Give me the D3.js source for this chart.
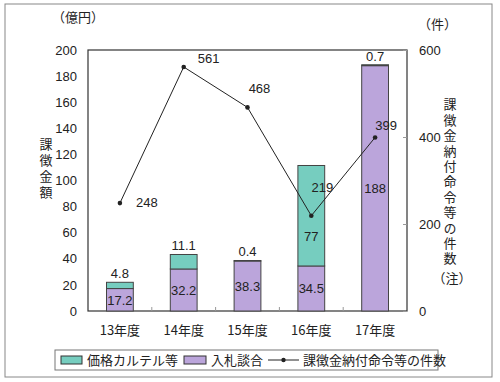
<!DOCTYPE html>
<html>
<head>
<meta charset="utf-8">
<script src="https://cdn.jsdelivr.net/npm/d3@7"></script>
<style>
  body { margin: 0; background: #fff; }
  text { font-family: "Liberation Sans", "Noto Sans CJK JP", sans-serif; fill: #222; }
  .jp { font-family: "Noto Sans CJK JP", sans-serif; }
  .vert { font-family: "Noto Sans CJK JP", sans-serif; writing-mode: vertical-rl; text-orientation: upright; }
</style>
</head>
<body>
<svg id="chart" width="500" height="382"></svg>
<script>
// data
const years = ["13年度", "14年度", "15年度", "16年度", "17年度"];
const bidRigging = [17.2, 32.2, 38.3, 34.5, 188];   // 入札談合
const cartel = [4.8, 11.1, 0.4, 77, 0.7];            // 価格カルテル等
const orders = [248, 561, 468, 219, 399];            // 課徴金納付命令等の件数
const leftTicks = [0, 20, 40, 60, 80, 100, 120, 140, 160, 180, 200];
const rightTicks = [0, 200, 400, 600];

// label nudges for the line values
const orderLabelNudge = [[27, 4], [25, -4], [12, -14], [11, -24], [11, -7]];

const svg = d3.select("#chart");
const m = { left: 88, right: 407, top: 50, bottom: 311 };

const teal = "#76cdbf", purple = "#bba5db";

// outer frame
svg.append("rect").attr("x", 5).attr("y", 4).attr("width", 487).attr("height", 373)
  .attr("fill", "none").attr("stroke", "#888").attr("stroke-width", 1);

const x = d3.scaleBand().domain(years).range([m.left, m.right]).paddingInner(0.58).paddingOuter(0.29);
const yL = d3.scaleLinear().domain([0, 200]).range([m.bottom, m.top]);
const yR = d3.scaleLinear().domain([0, 600]).range([m.bottom, m.top]);

// plot frame
svg.append("rect").attr("x", m.left).attr("y", m.top)
  .attr("width", m.right - m.left).attr("height", m.bottom - m.top)
  .attr("fill", "none").attr("stroke", "#333").attr("stroke-width", 1.2);

// left axis
const axL = svg.append("g").attr("transform", `translate(${m.left},0)`)
  .call(d3.axisLeft(yL).tickValues(leftTicks).tickSize(0).tickPadding(11));
axL.select(".domain").remove();
axL.selectAll("text").attr("font-size", 13).attr("font-family", "Liberation Sans, sans-serif");

// right axis
const axR = svg.append("g").attr("transform", `translate(${m.right},0)`)
  .call(d3.axisRight(yR).tickValues(rightTicks).tickSize(-4).tickPadding(12));
axR.select(".domain").remove();
axR.selectAll("line").attr("stroke", "#999");
axR.selectAll("text").attr("font-size", 13).attr("font-family", "Liberation Sans, sans-serif");

// category ticks on the bottom edge
const step = x.step();
svg.append("g").selectAll("line").data(years.slice(1)).join("line")
  .attr("x1", d => x(d) + x.bandwidth() / 2 - step / 2)
  .attr("x2", d => x(d) + x.bandwidth() / 2 - step / 2)
  .attr("y1", m.bottom).attr("y2", m.bottom - 4)
  .attr("stroke", "#999");

// category labels
svg.append("g").selectAll("text").data(years).join("text")
  .attr("class", "jp")
  .attr("x", d => x(d) + x.bandwidth() / 2)
  .attr("y", 335)
  .attr("text-anchor", "middle").attr("font-size", 13)
  .text(d => d);

// stacked bars
const stackData = years.map((y, i) => ({ year: y, bid: bidRigging[i], cartel: cartel[i] }));
const series = d3.stack().keys(["bid", "cartel"])(stackData);
const fills = { bid: purple, cartel: teal };

series.forEach(s => {
  svg.append("g").selectAll("rect").data(s).join("rect")
    .attr("x", d => x(d.data.year))
    .attr("y", d => yL(d[1]))
    .attr("width", x.bandwidth())
    .attr("height", d => yL(d[0]) - yL(d[1]))
    .attr("fill", fills[s.key])
    .attr("stroke", "#444").attr("stroke-width", 1);
});

// bar value labels
const valueFont = 13;
svg.append("g").selectAll("text").data(series[0]).join("text")
  .attr("x", d => x(d.data.year) + x.bandwidth() / 2)
  .attr("y", d => (yL(d[0]) + yL(d[1])) / 2 + 5)
  .attr("text-anchor", "middle").attr("font-size", valueFont)
  .text(d => d.data.bid);

svg.append("g").selectAll("text").data(series[1]).join("text")
  .attr("x", d => x(d.data.year) + x.bandwidth() / 2)
  .attr("y", d => {
    const h = yL(d[0]) - yL(d[1]);
    return h > 30 ? yL(d[0]) - h * 0.3 + 5 : yL(d[1]) - 4;
  })
  .attr("text-anchor", "middle").attr("font-size", valueFont)
  .text(d => d.data.cartel);

// line: orders
const pts = years.map((y, i) => [x(y) + x.bandwidth() / 2, yR(orders[i])]);
svg.append("path").datum(pts)
  .attr("d", d3.line())
  .attr("fill", "none").attr("stroke", "#222").attr("stroke-width", 1);
svg.append("g").selectAll("circle").data(pts).join("circle")
  .attr("cx", d => d[0]).attr("cy", d => d[1]).attr("r", 2.3).attr("fill", "#222");
svg.append("g").selectAll("text").data(pts).join("text")
  .attr("x", (d, i) => d[0] + orderLabelNudge[i][0])
  .attr("y", (d, i) => d[1] + orderLabelNudge[i][1])
  .attr("text-anchor", "middle").attr("font-size", valueFont)
  .text((d, i) => orders[i]);

// axis titles
svg.append("text").attr("class", "jp").attr("x", 52).attr("y", 22)
  .attr("font-size", 13).text("（億円）");
svg.append("text").attr("class", "jp").attr("x", 418).attr("y", 29)
  .attr("font-size", 13).text("（件）");

svg.append("text").attr("class", "vert")
  .attr("x", 46).attr("y", 138)
  .attr("font-size", 13).attr("letter-spacing", 3)
  .text("課徴金額");

svg.append("text").attr("class", "vert")
  .attr("x", 450).attr("y", 98)
  .attr("font-size", 13).attr("letter-spacing", 2.4)
  .text("課徴金納付命令等の件数");
svg.append("text").attr("class", "jp")
  .attr("x", 452).attr("y", 283)
  .attr("text-anchor", "middle").attr("font-size", 13).text("（注）");

// legend
const lg = svg.append("g");
lg.append("rect").attr("x", 55).attr("y", 350).attr("width", 383).attr("height", 20)
  .attr("fill", "#fff").attr("stroke", "#777");
lg.append("rect").attr("x", 61).attr("y", 356).attr("width", 21).attr("height", 8)
  .attr("fill", teal).attr("stroke", "#333");
lg.append("text").attr("class", "jp").attr("x", 87).attr("y", 365)
  .attr("font-size", 13).text("価格カルテル等");
lg.append("rect").attr("x", 184).attr("y", 356).attr("width", 22).attr("height", 8)
  .attr("fill", purple).attr("stroke", "#333");
lg.append("text").attr("class", "jp").attr("x", 211).attr("y", 365)
  .attr("font-size", 13).text("入札談合");
lg.append("line").attr("x1", 268).attr("x2", 299).attr("y1", 360).attr("y2", 360)
  .attr("stroke", "#222");
lg.append("circle").attr("cx", 283.5).attr("cy", 360).attr("r", 2.2).attr("fill", "#222");
lg.append("text").attr("class", "jp").attr("x", 303).attr("y", 365)
  .attr("font-size", 13).text("課徴金納付命令等の件数");
</script>
</body>
</html>
